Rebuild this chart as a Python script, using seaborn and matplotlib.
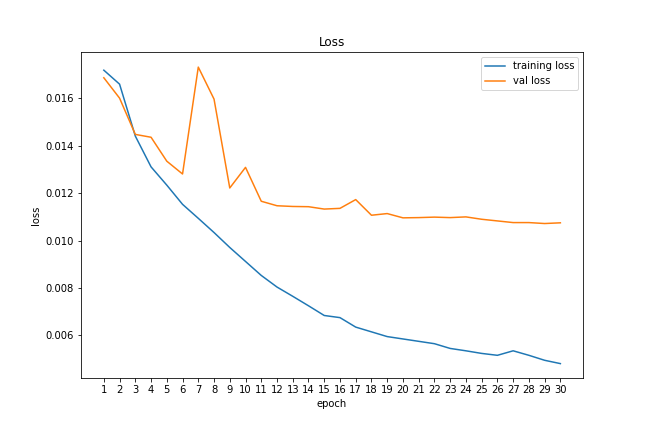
import matplotlib
matplotlib.use("Agg")
import matplotlib.pyplot as plt
import seaborn as sns

epochs = list(range(1, 31))
training_loss = [0.01719, 0.01660, 0.01441, 0.01311, 0.01234, 0.01153, 0.01094, 0.01034,
                 0.00971, 0.00912, 0.00853, 0.00804, 0.00765, 0.00725, 0.00684, 0.00675,
                 0.00635, 0.00615, 0.00595, 0.00585, 0.00575, 0.00565, 0.00545, 0.00535,
                 0.00524, 0.00516, 0.00535, 0.00516, 0.00495, 0.00481]
val_loss = [0.01687, 0.01601, 0.01448, 0.01436, 0.01335, 0.01281, 0.01732, 0.01597,
            0.01222, 0.01309, 0.01166, 0.01147, 0.01144, 0.01143, 0.01133, 0.01136,
            0.01173, 0.01107, 0.01114, 0.01096, 0.01097, 0.01099, 0.01097, 0.01100,
            0.01090, 0.01083, 0.01076, 0.01076, 0.01072, 0.01075]

fig, ax = plt.subplots(figsize=(9, 6), dpi=72)
fig.subplots_adjust(left=0.125, right=0.9, top=0.879, bottom=0.124)
sns.lineplot(x=epochs, y=training_loss, ax=ax, color="#1f77b4", label="training loss")
sns.lineplot(x=epochs, y=val_loss, ax=ax, color="#ff7f0e", label="val loss")
ax.set_xticks(epochs)
ax.set_title("Loss")
ax.set_xlabel("epoch")
ax.set_ylabel("loss")
ax.legend(loc="upper right")
fig.savefig("out.png", dpi=72)
